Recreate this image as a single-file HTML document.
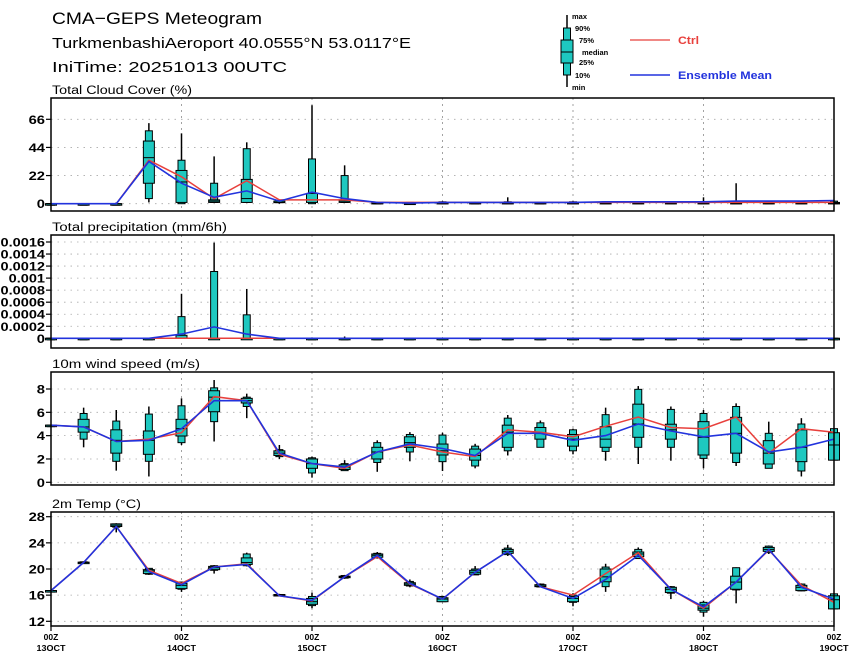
<!DOCTYPE html>
<html><head><meta charset="utf-8"><style>
body{margin:0;background:#fff;}
svg{display:block;font-family:"Liberation Sans",sans-serif;}
</style></head><body>
<svg id="chart" width="860" height="663" viewBox="0 0 860 663" xmlns="http://www.w3.org/2000/svg">
<text x="52" y="24" font-size="17" textLength="210" lengthAdjust="spacingAndGlyphs">CMA−GEPS Meteogram</text>
<text x="52" y="48" font-size="15" textLength="359" lengthAdjust="spacingAndGlyphs">TurkmenbashiAeroport 40.0555°N 53.0117°E</text>
<text x="52" y="72" font-size="15" textLength="235" lengthAdjust="spacingAndGlyphs">IniTime: 20251013 00UTC</text>
<g>
<line x1="567" y1="15" x2="567" y2="87" stroke="#000" stroke-width="1.5"/>
<rect x="563.5" y="28" width="7" height="47" fill="#1ec8c0" stroke="#000"/>
<rect x="561" y="40" width="12" height="23" fill="#1ec8c0" stroke="#000"/>
<line x1="561" y1="52" x2="573" y2="52" stroke="#000"/>
<g font-size="7.5" font-weight="bold">
<text x="572" y="19">max</text><text x="575" y="31">90%</text><text x="579" y="43">75%</text>
<text x="582" y="55">median</text><text x="579" y="65">25%</text><text x="575" y="78">10%</text><text x="572" y="90">min</text>
</g>
<line x1="630" y1="40" x2="670" y2="40" stroke="#e8403c" stroke-width="1.3"/>
<text x="678" y="44" font-size="11" font-weight="bold" fill="#e8403c" textLength="21" lengthAdjust="spacingAndGlyphs">Ctrl</text>
<line x1="630" y1="75" x2="670" y2="75" stroke="#2233dd" stroke-width="1.5"/>
<text x="678" y="79" font-size="11" font-weight="bold" fill="#2233dd" textLength="94" lengthAdjust="spacingAndGlyphs">Ensemble Mean</text>
</g>
</svg>
<script>
const dayLabels=["13OCT","14OCT","15OCT","16OCT","17OCT","18OCT","19OCT"];
const cldMin=[0,0,0,1,0,1,1,0,0,1,0,0,0,0,0,0,0,0,0,0,0,0,0,0,0];
const cldP10=[0,0,0,4,0,1,1,1,0,1,0,0,0,0,0,0,0,0,0,0,0,0,0,0,0];
const cldP25=[0,0,0,16,1,1,1,1,1,1,0,0,0,0,0,0,0,0,0,0,0,0,0,0,0];
const cldMed=[0,0,0,36,17,2,4,1,3,2,0.5,0,0.5,0.5,0.5,0.5,0.5,0.5,0.5,0.5,0.5,0.5,0.5,0.5,0.5];
const cldP75=[0,0,0,49,26,3,19,2,8,3,1,0.5,1,1,1,1,1,1,1,1,1,1,1,1,1];
const cldP90=[0,0,0,57,34,16,43,2,35,22,1,1,1.5,1,1.5,1,1.5,1.5,1.5,1.5,1.5,1.5,1.5,1.5,2];
const cldMax=[0,0,1,63,55,37,48,3,77,30,1.5,1,2,1.5,5,1,2,2,2,2,5,16,2,2,2.5];
const cldCtrl=[0,0,0,34,21,4,18,3,3,3,1,1,1,1,1,1,1,1,1,1,1,1,1,1,1];
const cldMean=[0,0,0,33,16,5,10,2,9,4,1,0.5,1,1,1,1,1,1.5,1.5,1.5,1.5,2,2,2,2.5];
const cldTicks=[0,22,44,66];

const pcpMin=[0,0,0,0,0,0,0,0,0,0,0,0,0,0,0,0,0,0,0,0,0,0,0,0,0];
const pcpP10=[0,0,0,0,0,0,0,0,0,0,0,0,0,0,0,0,0,0,0,0,0,0,0,0,0];
const pcpP25=[0,0,0,0,0,0,0,0,0,0,0,0,0,0,0,0,0,0,0,0,0,0,0,0,0];
const pcpMed=[0,0,0,0,0,0,0,0,0,0,0,0,0,0,0,0,0,0,0,0,0,0,0,0,0];
const pcpP75=[0,0,0,0,0.00005,0,0,0,0,0,0,0,0,0,0,0,0,0,0,0,0,0,0,0,0];
const pcpP90=[0,0,0,0,0.00036,0.00111,0.00039,0,0,0,0,0,0,0,0,0,0,0,0,0,0,0,0,0,0];
const pcpMax=[0,0,0,0,0.00074,0.00159,0.00082,0,0.00001,0.00003,0,0,0,0,0,0,0,0,0,0,0,0,0,0,0];
const pcpCtrl=[0,0,0,0,0,0,0,0,0,0,0,0,0,0,0,0,0,0,0,0,0,0,0,0,0];
const pcpMean=[0,0,0,0,0.00007,0.00019,0.00007,0,0,0,0,0,0,0,0,0,0,0,0,0,0,0,0,0,0];
const pcpTicks=[0,0.0002,0.0004,0.0006,0.0008,0.001,0.0012,0.0014,0.0016];
const pcpTickLabels=["0","0.0002","0.0004","0.0006","0.0008","0.001","0.0012","0.0014","0.0016"];

const wndMin=[4.9,3.0,1.0,0.5,3.2,3.5,5.5,2.0,0.4,1.0,0.9,1.8,0.97,1.2,2.3,3.0,2.4,1.85,1.57,1.85,1.2,1.4,1.2,0.5,1.9];
const wndP10=[4.9,3.7,1.8,1.8,3.4,5.2,6.5,2.2,0.8,1.0,1.7,2.6,1.77,1.4,2.7,3.0,2.7,2.65,3.0,3.0,2.05,1.7,1.2,0.97,1.9];
const wndP25=[4.9,4.3,2.5,2.4,3.97,6.05,6.8,2.3,1.2,1.1,2.0,3.0,2.34,1.9,3.0,3.7,3.1,3.0,3.86,3.7,2.34,2.5,1.57,1.77,1.9];
const wndMed=[4.9,4.75,3.6,3.6,4.6,7.3,7.0,2.5,1.6,1.3,2.6,3.4,2.7,2.3,4.3,4.2,3.7,3.7,5.0,4.5,3.86,4.2,2.5,3.0,3.2];
const wndP75=[4.9,5.4,4.5,4.4,5.4,7.85,7.2,2.7,2.0,1.5,3.0,3.9,3.28,2.85,4.9,4.7,4.1,4.76,6.7,4.98,5.2,5.57,3.57,4.5,4.25];
const wndP90=[4.9,5.9,5.25,5.85,6.56,8.1,7.3,2.8,2.1,1.6,3.4,4.1,4.05,3.1,5.5,5.1,4.5,5.8,7.97,6.25,5.9,6.5,4.2,5.0,4.6];
const wndMax=[4.9,6.4,6.2,6.5,7.2,8.77,7.6,3.2,2.2,1.9,3.6,4.3,4.25,3.3,5.77,5.3,4.6,6.4,8.25,6.5,6.2,6.77,5.2,5.5,4.6];
const wndCtrl=[4.9,4.75,3.5,3.7,4.25,7.35,7.0,2.4,1.6,1.2,2.6,3.2,2.6,2.2,4.5,4.3,3.9,4.8,5.6,4.7,4.6,5.6,2.5,4.6,4.3];
const wndMean=[4.9,4.75,3.5,3.6,4.6,7.0,7.0,2.5,1.6,1.3,2.6,3.3,2.9,2.3,4.2,4.2,3.6,4.0,5.0,4.4,3.9,4.2,2.6,3.0,3.7];
const wndTicks=[0,2,4,6,8];

const tmpMin=[16.7,20.8,25.6,19.1,16.5,19.3,20.4,15.8,14.0,18.5,21.6,17.2,15.0,19.1,22.0,17.2,14.3,16.5,21.6,15.4,12.7,14.75,22.3,16.6,13.8];
const tmpP10=[16.7,20.9,26.4,19.2,16.9,19.8,20.5,15.9,14.4,18.6,21.7,17.4,15.0,19.1,22.2,17.25,14.9,17.3,21.6,16.3,13.4,16.8,22.5,16.65,13.9];
const tmpP25=[16.7,20.95,26.5,19.3,17.0,19.9,20.7,15.9,14.6,18.7,21.8,17.5,15.0,19.2,22.4,17.3,15.0,18.05,21.9,16.4,13.7,16.9,22.7,16.7,13.9];
const tmpMed=[16.7,21.0,26.7,19.7,17.5,20.2,21.0,16.0,15.0,18.8,22.1,17.7,15.4,19.5,22.7,17.4,15.5,18.8,22.3,16.9,14.0,18.0,23.0,17.2,15.3];
const tmpP75=[16.7,21.05,26.9,19.9,17.8,20.4,21.7,16.1,15.5,18.9,22.3,17.9,15.6,19.8,23.0,17.6,15.8,20.0,22.6,17.2,14.5,18.9,23.3,17.5,15.9];
const tmpP90=[16.7,21.1,26.9,20.1,18.0,20.5,22.3,16.1,15.8,19.0,22.4,18.1,15.8,20.0,23.2,17.7,16.0,20.3,23.0,17.3,14.9,20.2,23.5,17.7,16.2];
const tmpMax=[16.7,21.2,27.0,20.1,18.05,20.6,22.5,16.2,16.4,19.1,22.6,18.4,15.9,20.45,23.7,17.8,16.3,20.8,23.3,17.4,15.15,20.25,23.6,17.8,16.3];
const tmpCtrl=[16.7,21.0,26.5,19.8,17.8,20.3,20.8,15.9,15.1,18.8,21.9,17.7,15.4,19.5,22.7,17.3,16.0,19.3,22.5,16.9,14.0,18.0,22.9,17.5,14.9];
const tmpMean=[16.7,21.0,26.5,19.6,17.6,20.3,20.7,15.9,15.2,18.8,22.1,17.8,15.4,19.5,22.7,17.3,15.5,18.4,22.1,16.9,14.2,18.0,23.0,17.2,15.4];
const tmpTicks=[12,16,20,24,28];

const svg=document.getElementById('chart');
const NS='http://www.w3.org/2000/svg';
const X0=51,X1=834,NSTEP=24;
function xs(i){return X0+(X1-X0)*i/NSTEP;}
function mk(tag,attrs,parent){const e=document.createElementNS(NS,tag);for(const k in attrs)e.setAttribute(k,attrs[k]);(parent||svg).appendChild(e);return e;}
function labelWidth(s){let w=0;for(const ch of s)w+=(ch==='.')?3.5:8.2;return w;}

function panel(cfg){
  const g=mk('g',{});
  
  
  const ys=v=>cfg.y0px+(v-cfg.v0)*(cfg.y1px-cfg.y0px)/(cfg.v1-cfg.v0);
  const t=mk('text',{x:52,y:cfg.top-4,'font-size':11.5,textLength:cfg.titleLen,lengthAdjust:'spacingAndGlyphs'},g);
  t.textContent=cfg.title;
  
  
  cfg.ticks.forEach((v,k)=>{
    const y=ys(v);
    mk('line',{x1:X0,x2:X1,y1:y,y2:y,stroke:'#aaa','stroke-width':0.8,'stroke-dasharray':'1.5,5'},g);
    mk('line',{x1:X0-5,x2:X0,y1:y,y2:y,stroke:'#000','stroke-width':1.2},g);
    const s=cfg.tickLabels?cfg.tickLabels[k]:String(v);
    const lw=labelWidth(s);
    const l=mk('text',{x:X0-6-lw,y:y+4.5,'font-size':12,'font-weight':'bold',textLength:lw,lengthAdjust:'spacingAndGlyphs'},g);
    l.textContent=s;
    
    
  });
  for(let d=1;d<dayLabels.length-1;d++){
    const x=xs(d*4);
    mk('line',{x1:x,x2:x,y1:cfg.top,y2:cfg.bottom,stroke:'#999','stroke-width':0.9,'stroke-dasharray':'2,4'},g);
  }
  for(let i=0;i<=NSTEP;i++){
    const x=xs(i);
    const b=mk('g',{},g);
    
    
    mk('line',{x1:x,x2:x,y1:ys(cfg.min[i]),y2:ys(cfg.max[i]),stroke:'#000','stroke-width':1.5},b);
    const a=ys(cfg.p90[i]),c=ys(cfg.p10[i]);
    mk('rect',{x:x-3.5,y:a,width:7,height:Math.max(c-a,1.5),fill:'#1ec8c0',stroke:'#000','stroke-width':1},b);
    const a2=ys(cfg.p75[i]),c2=ys(cfg.p25[i]);
    mk('rect',{x:x-5.5,y:a2,width:11,height:Math.max(c2-a2,1.5),fill:'#1ec8c0',stroke:'#000','stroke-width':1},b);
    const m=ys(cfg.med[i]);
    mk('line',{x1:x-5.5,x2:x+5.5,y1:m,y2:m,stroke:'#000','stroke-width':1},b);
  }
  const pts=arr=>arr.map((v,i)=>xs(i).toFixed(1)+','+ys(v).toFixed(1)).join(' ');
  const cl=mk('polyline',{points:pts(cfg.ctrl),fill:'none',stroke:'#e8403c','stroke-width':1.5},g);
  
  
  const ml=mk('polyline',{points:pts(cfg.mean),fill:'none',stroke:'#2233dd','stroke-width':1.6},g);
  
  
  const fr=mk('rect',{x:X0,y:cfg.top,width:X1-X0,height:cfg.bottom-cfg.top,fill:'none',stroke:'#000','stroke-width':1.5},g);
  
  
}
panel({name:'cloud',title:'Total Cloud Cover (%)',titleLen:140,top:98,bottom:211,v0:0,v1:66,y0px:203.7,y1px:119.3,ticks:cldTicks,
  min:cldMin,p10:cldP10,p25:cldP25,med:cldMed,p75:cldP75,p90:cldP90,max:cldMax,ctrl:cldCtrl,mean:cldMean});
panel({name:'precip',title:'Total precipitation (mm/6h)',titleLen:175,top:235,bottom:348,v0:0,v1:0.0016,y0px:338.3,y1px:242,ticks:pcpTicks,tickLabels:pcpTickLabels,
  min:pcpMin,p10:pcpP10,p25:pcpP25,med:pcpMed,p75:pcpP75,p90:pcpP90,max:pcpMax,ctrl:pcpCtrl,mean:pcpMean});
panel({name:'wind',title:'10m wind speed (m/s)',titleLen:148,top:372,bottom:485,v0:0,v1:8,y0px:482.3,y1px:389,ticks:wndTicks,
  min:wndMin,p10:wndP10,p25:wndP25,med:wndMed,p75:wndP75,p90:wndP90,max:wndMax,ctrl:wndCtrl,mean:wndMean});
panel({name:'temp',title:'2m Temp (°C)',titleLen:89,top:512,bottom:626,v0:12,v1:28,y0px:621.3,y1px:516.7,ticks:tmpTicks,
  min:tmpMin,p10:tmpP10,p25:tmpP25,med:tmpMed,p75:tmpP75,p90:tmpP90,max:tmpMax,ctrl:tmpCtrl,mean:tmpMean});
dayLabels.forEach((d,k)=>{
  const x=xs(k*4);
  mk('line',{x1:x,x2:x,y1:626,y2:631,stroke:'#000','stroke-width':1.2});
  const a=mk('text',{x:x,y:640,'font-size':8.5,'font-weight':'bold','text-anchor':'middle'});
  a.textContent='00Z';
  
  
  const b=mk('text',{x:x,y:651,'font-size':8.5,'font-weight':'bold','text-anchor':'middle',textLength:29,lengthAdjust:'spacingAndGlyphs'});
  b.textContent=d;
  
  
});
</script>
</body></html>
